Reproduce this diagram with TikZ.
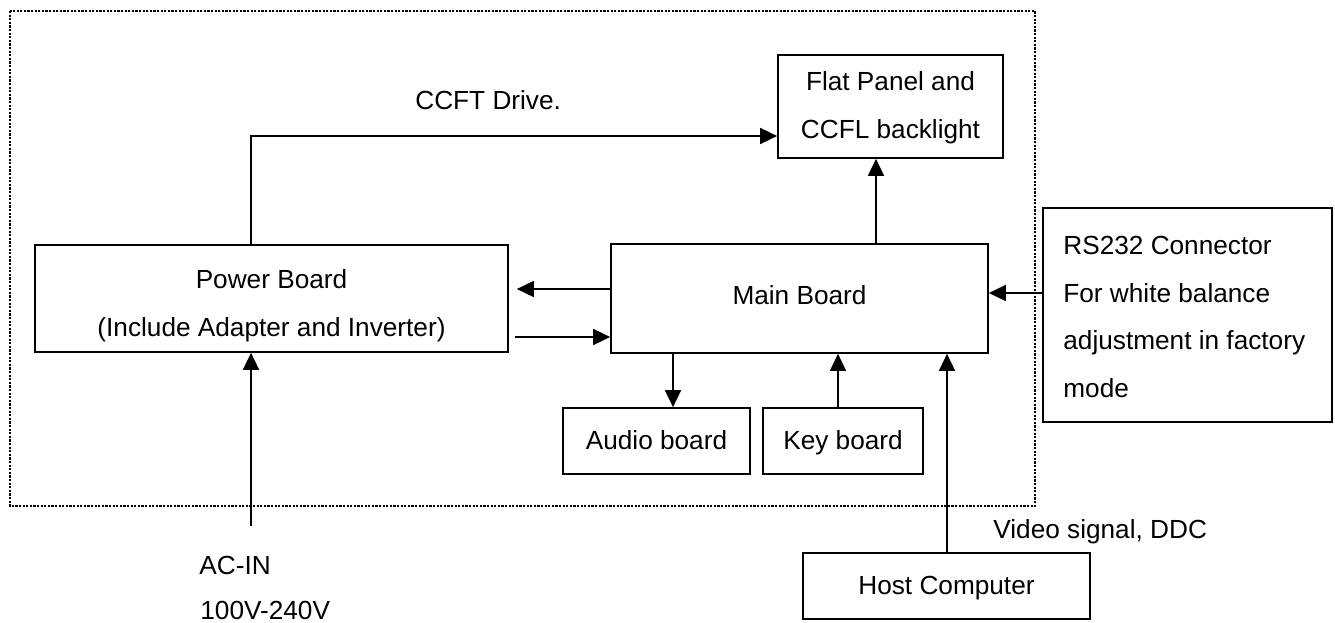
\documentclass[tikz,border=0pt]{standalone}
\usepackage{fontspec}
\setmainfont{Liberation Sans}
\usetikzlibrary{arrows.meta}

\begin{document}
\begin{tikzpicture}[x=0.5pt, y=-0.5pt,
  every node/.style={font=\fontsize{13.1}{23.8}\selectfont, inner sep=0pt},
  blk/.style={draw, line width=0.85pt, anchor=center},
  one/.style={text height=10.6pt, text depth=1.7pt},
  arr/.style={line width=0.85pt, -{Triangle[length=8.5pt, width=8pt]}},
  frame/.style={line width=1.2pt, dash pattern=on 1.1pt off 0.7pt},
  txt/.style={align=center}]

\useasboundingbox (0,0) rectangle (1335,622);

% monitor enclosure
\draw[frame] (10,11) rectangle (1035,506);

% blocks
\node[blk, minimum width=236.5pt, minimum height=53.5pt] (power) at (271.5,298.5) {};
\node[txt] (powert) at (271.5,306) {Power Board\\(Include Adapter and Inverter)};

\node[blk, minimum width=188.5pt, minimum height=54.5pt] (main) at (799.5,298.5) {};
\node (maint) at (799.5,295) {Main Board};

\node[blk, minimum width=112.5pt, minimum height=51.5pt] (flat) at (890.5,106.5) {};
\node[txt] (flatt) at (890.5,108) {Flat Panel and\\CCFL backlight};

\node[blk, one, minimum width=93.5pt, minimum height=33pt] (audio) at (656.5,441) {Audio board};
\node[blk, one, minimum width=80pt, minimum height=33pt] (key) at (843,441) {Key board};

\node[blk, minimum width=144.5pt, minimum height=107pt] (rs) at (1187.5,315) {};
\node[align=left, anchor=west] (rst) at (1063,317) {RS232 Connector\\For white balance\\adjustment in factory\\mode};

\node[blk, one, minimum width=143.5pt, minimum height=33pt] (host) at (946.5,586) {Host Computer};

% labels
\node[anchor=west] (ccftl) at (415,100) {CCFT Drive.};
\node[anchor=west] (videol) at (993,532) {Video signal, DDC};
\node[anchor=west] (acl) at (199,565) {AC-IN};
\node[anchor=west] (voltl) at (200,610) {100V-240V};

% connector positions
\coordinate (ccftc) at (251,136);
\coordinate (l1) at (0,289);
\coordinate (l2) at (0,337);
\coordinate (rsy) at (0,293);
\coordinate (upx) at (876,0);
\coordinate (audx) at (673,0);
\coordinate (keyx) at (838,0);
\coordinate (hostx) at (947,0);
\coordinate (acin) at (251,526);

% connectors
\draw[arr] (power.north -| ccftc) |- (flat.west |- ccftc);
\draw[arr, shorten >=4pt] (main.west |- l1) -- (power.east |- l1);
\draw[arr, shorten <=3pt] (power.east |- l2) -- (main.west |- l2);
\draw[arr] (main.north -| upx) -- (flat.south -| upx);
\draw[arr] (rs.west |- rsy) -- (main.east |- rsy);
\draw[arr] (main.south -| audx) -- (audio.north -| audx);
\draw[arr] (key.north -| keyx) -- (main.south -| keyx);
\draw[arr] (host.north -| hostx) -- (main.south -| hostx);
\draw[arr] (acin) -- (power.south -| acin);

\end{tikzpicture}
\end{document}
